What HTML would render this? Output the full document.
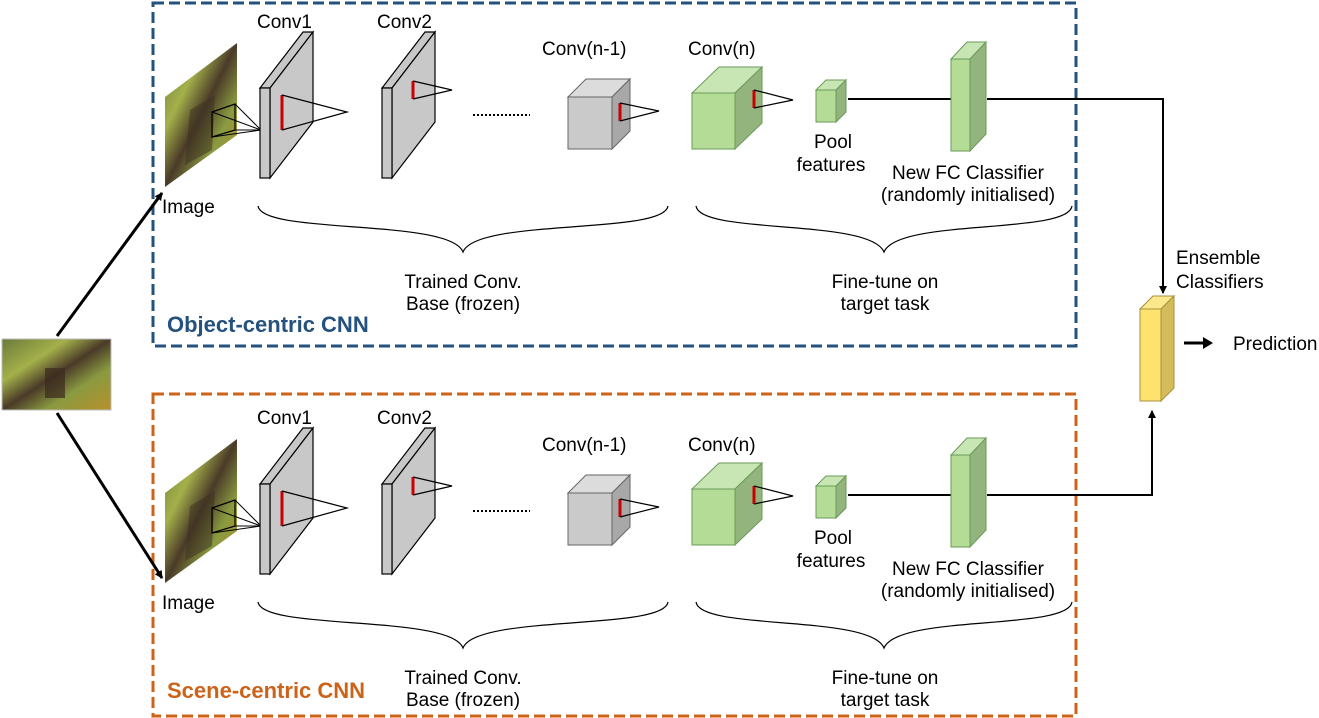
<!DOCTYPE html>
<html><head><meta charset="utf-8"><style>
html,body{margin:0;padding:0;background:#fff;}
svg{display:block;font-family:"Liberation Sans",Arial,sans-serif;}
</style></head><body>
<svg width="1319" height="718" viewBox="0 0 1319 718" xmlns="http://www.w3.org/2000/svg">
<defs>
<linearGradient id="ph" x1="0" y1="0" x2="1" y2="1">
<stop offset="0" stop-color="#6a7a3a"/><stop offset="0.3" stop-color="#a4b04a"/><stop offset="0.5" stop-color="#4a3a28"/><stop offset="0.7" stop-color="#8a9a40"/><stop offset="1" stop-color="#b8902a"/>
</linearGradient>
<marker id="ah" markerWidth="8" markerHeight="8" refX="7" refY="4" orient="auto" markerUnits="userSpaceOnUse"><path d="M0,0 L8,4 L0,8 z" fill="#000"/></marker>
<g id="panel">
  <polygon points="165,97 237,43 237,135 165,187" fill="url(#ph)"/>
  <polygon points="190,110 215,95 212,150 185,165" fill="#3a3020" opacity="0.5"/>
  <polygon points="212,112 235,104 235,130 212,137" fill="none" stroke="#000" stroke-width="1.2"/>
  <g stroke="#000" stroke-width="1" fill="none">
    <line x1="212" y1="112" x2="261" y2="130"/><line x1="235" y1="104" x2="261" y2="130"/>
    <line x1="212" y1="137" x2="261" y2="130"/><line x1="235" y1="130" x2="261" y2="130"/>
  </g>
  <g stroke="#000" stroke-width="1.2" fill="#c8c8c8">
    <polygon points="260,88 270,88 313,32 303,32"/>
    <polygon points="270,88 313,32 313,122 270,178"/>
    <rect x="260" y="88" width="10" height="90"/>
  </g>
  <line x1="282" y1="95" x2="282" y2="130" stroke="#c00" stroke-width="3"/>
  <polyline points="282,95 347,112 282,130" fill="none" stroke="#000" stroke-width="1.2"/>
  <g stroke="#000" stroke-width="1.2" fill="#c8c8c8">
    <polygon points="382,88 392,88 435,32 425,32"/>
    <polygon points="392,88 435,32 435,122 392,178"/>
    <rect x="382" y="88" width="10" height="90"/>
  </g>
  <line x1="413" y1="81" x2="413" y2="99" stroke="#c00" stroke-width="3"/>
  <polyline points="413,81 452,90 413,99" fill="none" stroke="#000" stroke-width="1.2"/>
  <line x1="473" y1="115" x2="530" y2="115" stroke="#000" stroke-width="2" stroke-dasharray="2,2"/>
  <g stroke="#666" stroke-width="1">
    <polygon points="568,97 612,97 630,79 586,79" fill="#dcdcdc"/>
    <polygon points="612,97 630,79 630,131 612,149" fill="#a8a8a8"/>
    <rect x="568" y="97" width="44" height="52" fill="#cacaca"/>
  </g>
  <line x1="620" y1="103" x2="620" y2="121" stroke="#c00" stroke-width="3"/>
  <polyline points="620,103 659,111 620,121" fill="none" stroke="#000" stroke-width="1.2"/>
  <g stroke="#6a9a5a" stroke-width="1">
    <polygon points="692,93 735,93 762,67 719,67" fill="#c8e6b4"/>
    <polygon points="735,93 762,67 762,123 735,149" fill="#93b47c"/>
    <rect x="692" y="93" width="43" height="56" fill="#b4dc96"/>
  </g>
  <line x1="754" y1="90" x2="754" y2="108" stroke="#c00" stroke-width="3"/>
  <polyline points="754,90 793,100 754,108" fill="none" stroke="#000" stroke-width="1.2"/>
  <g stroke="#6a9a5a" stroke-width="1">
    <polygon points="816,90 836,90 846,80 826,80" fill="#c8e6b4"/>
    <polygon points="836,90 846,80 846,112 836,122" fill="#93b47c"/>
    <rect x="816" y="90" width="20" height="32" fill="#b4dc96"/>
  </g>
  <line x1="848" y1="99" x2="951" y2="99" stroke="#000" stroke-width="2"/>
  <g stroke="#6a9a5a" stroke-width="1">
    <polygon points="951,59 970,59 986,42 967,42" fill="#c8e6b4"/>
    <polygon points="970,59 986,42 986,134 970,151" fill="#93b47c"/>
    <rect x="951" y="59" width="19" height="92" fill="#b4dc96"/>
  </g>
  <g font-size="19" fill="#000">
    <text x="257" y="28">Conv1</text>
    <text x="377" y="28">Conv2</text>
    <text x="542" y="55">Conv(n-1)</text>
    <text x="688" y="55">Conv(n)</text>
    <text x="162" y="213">Image</text>
    <text x="833" y="148" text-anchor="middle">Pool</text>
    <text x="831" y="171" text-anchor="middle">features</text>
    <text x="968" y="179" text-anchor="middle">New FC Classifier</text>
    <text x="968" y="201" text-anchor="middle">(randomly initialised)</text>
    <text x="463" y="288" text-anchor="middle">Trained Conv.</text>
    <text x="463" y="310" text-anchor="middle">Base (frozen)</text>
    <text x="885" y="288" text-anchor="middle">Fine-tune on</text>
    <text x="885" y="310" text-anchor="middle">target task</text>
  </g>
  <g fill="none" stroke="#000" stroke-width="1.2">
    <path d="M258,206 C262,235 450,218 463,252 C476,218 664,235 668,206"/>
    <path d="M696,206 C700,235 870,218 884,252 C898,218 1068,235 1072,206"/>
  </g>
</g>
</defs>

<rect x="153" y="3" width="923" height="343" fill="none" stroke="#24517e" stroke-width="3" stroke-dasharray="11,5"/>
<rect x="153" y="394" width="923" height="322" fill="none" stroke="#cc6319" stroke-width="3" stroke-dasharray="11,5"/>

<use href="#panel"/>
<use href="#panel" transform="translate(0,396)"/>

<text x="167" y="332" font-size="22" font-weight="bold" fill="#24517e">Object-centric CNN</text>
<text x="167" y="698" font-size="22" font-weight="bold" fill="#cc6319">Scene-centric CNN</text>

<rect x="2" y="339" width="109" height="71" fill="url(#ph)" stroke="#bbb" stroke-width="1"/>
<rect x="45" y="368" width="20" height="30" fill="#3a2a20" opacity="0.7"/>
<line x1="57" y1="336" x2="162" y2="193" stroke="#000" stroke-width="3" marker-end="url(#ah)"/>
<line x1="57" y1="413" x2="162" y2="578" stroke="#000" stroke-width="3" marker-end="url(#ah)"/>

<polyline points="987,99 1163,99 1163,293" fill="none" stroke="#000" stroke-width="2" marker-end="url(#ah)"/>
<polyline points="987,495 1152,495 1152,411" fill="none" stroke="#000" stroke-width="2" marker-end="url(#ah)"/>

<g stroke="#a89040" stroke-width="1">
  <polygon points="1140,309 1161,309 1174,296 1153,296" fill="#fbe88a"/>
  <polygon points="1161,309 1174,296 1174,388 1161,401" fill="#d6bb5a"/>
  <rect x="1140" y="309" width="21" height="92" fill="#fde36e"/>
</g>
<text x="1176" y="264" font-size="19">Ensemble</text>
<text x="1176" y="288" font-size="19">Classifiers</text>
<line x1="1184" y1="343" x2="1206" y2="343" stroke="#000" stroke-width="3"/>
<path d="M1203,337 L1213,343 L1203,349 z" fill="#000"/>
<text x="1233" y="350" font-size="19">Prediction</text>
</svg>
</body></html>
